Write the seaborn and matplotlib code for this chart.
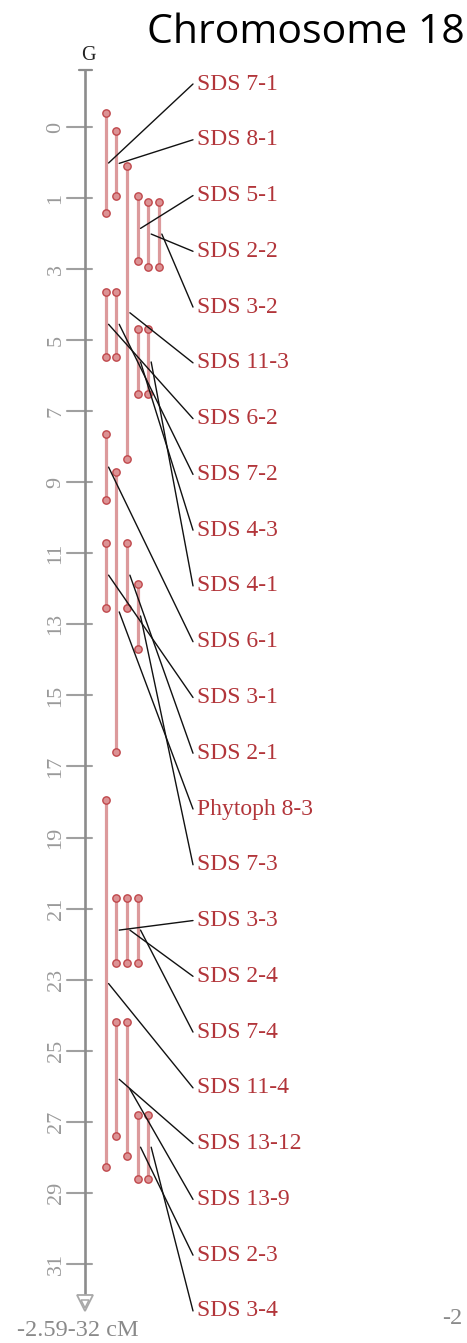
import matplotlib
matplotlib.use("Agg")
import matplotlib.pyplot as plt
import numpy as np
import pandas as pd
import seaborn as sns

# QTL intervals on the linkage group (cM), listed in label order
qtl_names = ["SDS 7-1", "SDS 8-1", "SDS 5-1", "SDS 2-2", "SDS 3-2", "SDS 11-3",
             "SDS 6-2", "SDS 7-2", "SDS 4-3", "SDS 4-1", "SDS 6-1", "SDS 3-1",
             "SDS 2-1", "Phytoph 8-3", "SDS 7-3", "SDS 3-3", "SDS 2-4", "SDS 7-4",
             "SDS 11-4", "SDS 13-12", "SDS 13-9", "SDS 2-3", "SDS 3-4"]
qtl_start = [-1.40, -0.89, 0.94, 1.10, 1.10, 0.11,
             3.64, 3.64, 4.70, 4.70, 7.65, 10.70,
             10.70, 8.70, 11.85, 20.69, 20.69, 20.69,
             17.94, 24.20, 24.20, 26.81, 26.81]
qtl_end = [1.43, 0.94, 2.77, 2.93, 2.93, 8.35,
           5.47, 5.47, 6.53, 6.53, 9.50, 12.53,
           12.53, 16.60, 13.68, 22.52, 22.52, 22.52,
           28.28, 27.41, 27.96, 28.62, 28.62]

map_start = -2.59
map_end = 32.0
tick_values = [-1, 1, 3, 5, 7, 9, 11, 13, 15, 17, 19, 21, 23, 25, 27, 29, 31]
tick_labels = ["0", "1", "3", "5", "7", "9", "11", "13", "15", "17", "19",
               "21", "23", "25", "27", "29", "31"]
group_name = "G"
range_text = "-2.59-32 cM"
title_text = "Chromosome 18"


def pack_lanes(starts, ends, min_gap=0.5):
    """Greedy lane assignment so overlapping intervals sit side by side."""
    order = sorted(range(len(starts)), key=lambda i: starts[i])
    lane_end, lanes = [], [0] * len(starts)
    for i in order:
        for k, e in enumerate(lane_end):
            if starts[i] - e >= min_gap:
                lanes[i] = k
                lane_end[k] = ends[i]
                break
        else:
            lanes[i] = len(lane_end)
            lane_end.append(ends[i])
    return lanes


qtl = pd.DataFrame({"name": qtl_names, "start": qtl_start, "end": qtl_end})
qtl["lane"] = pack_lanes(qtl_start, qtl_end)
qtl["mid"] = (qtl["start"] + qtl["end"]) / 2

# ---- layout (pixel geometry of the canvas) ----
W, H = 467, 1343
PX_PER_CM = 35.53
Y1_PX = 198.0          # pixel row of 1 cM
LANE_X0 = 105.7        # pixel column of the first lane
LANE_DX = 10.65        # pixel spacing between lanes


def px_x(p):
    return (p - LANE_X0) / LANE_DX


def px_y(p):
    return 1 + (p - Y1_PX) / PX_PER_CM


sns.set_theme(style="white")
plt.rcParams["font.family"] = ["Liberation Serif", "DejaVu Serif"]

fig = plt.figure(figsize=(W / 100, H / 100), dpi=100)
ax = fig.add_axes([0, 0, 1, 1])
ax.set_xlim(px_x(0), px_x(W))
ax.set_ylim(px_y(H), px_y(0))
ax.axis("off")

axis_color = "#8c8c8c"
tick_color = "#a0a0a0"
bar_color = "#dc9a9c"
dot_face = "#dc9294"
dot_edge = "#c0484c"
label_color = "#b2353a"

# map axis with end cap and open arrow head
axis_x = px_x(85)
ax.plot([axis_x, axis_x], [map_start, map_end], color=axis_color, lw=1.9,
        solid_capstyle="butt", zorder=2)
ax.plot([px_x(79), px_x(92)], [map_start, map_start], color=axis_color, lw=1.6, zorder=2)
ax.plot([axis_x], [px_y(1303)], marker="v", ms=11, mfc="white", mec="#a8a8a8",
        mew=1.3, zorder=3)
ax.plot([axis_x], [px_y(1304)], marker="v", ms=5.5, mfc="white", mec="#a8a8a8",
        mew=1.1, zorder=4)

for v, lab in zip(tick_values, tick_labels):
    ax.plot([px_x(67), px_x(92)], [v, v], color=tick_color, lw=1.5, zorder=1)
    ax.text(px_x(56), v, lab, rotation=90, ha="center", va="center",
            fontsize=16, color="#9a9a9a")

ax.text(px_x(88), px_y(56), group_name, ha="center", va="center",
        fontsize=14.5, color="#222222")
ax.text(px_x(17), px_y(1331), range_text, ha="left", va="center",
        fontsize=17.5, color="#8a8a8a")
ax.text(px_x(442), px_y(1318), range_text[:2], ha="left", va="center",
        fontsize=17.5, color="#8a8a8a")

# QTL intervals
ax.vlines(qtl["lane"], qtl["start"], qtl["end"], color=bar_color, lw=2.3, zorder=3)
ends = pd.DataFrame({
    "lane": np.concatenate([qtl["lane"], qtl["lane"]]),
    "pos": np.concatenate([qtl["start"], qtl["end"]]),
})
sns.scatterplot(data=ends, x="lane", y="pos", ax=ax, s=28, color=dot_face,
                edgecolor=dot_edge, linewidth=1.0, zorder=4, legend=False)

# labels with leader lines from interval midpoints
for i, row in qtl.iterrows():
    ly = px_y(84 + i * 55.77)
    ax.plot([row["lane"] + 0.27, px_x(193)], [row["mid"], ly], color="#111111",
            lw=1.0, zorder=5)
    ax.text(px_x(197), ly, row["name"], ha="left", va="center", fontsize=17,
            color=label_color, zorder=6)

ax.set_xlabel("")
ax.set_ylabel("")
fig.text(147 / W, 1 - 43 / H, title_text, ha="left", va="baseline",
         fontsize=29.5, color="black", family=["Open Sans", "DejaVu Sans"])

fig.savefig("out.png", dpi=100)
